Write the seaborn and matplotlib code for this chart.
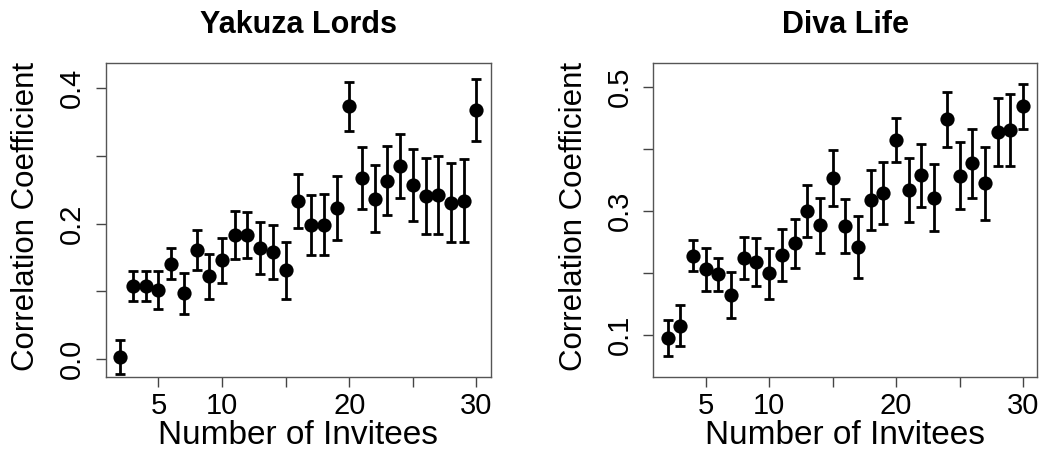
from matplotlib import pyplot as plt
import seaborn as sns
import numpy as np
import pandas as pd

# number of invitees (same for both games)
invitees = list(range(2, 31))

# Yakuza Lords: correlation coefficient and error bar half-width
yakuza_corr = [0.003, 0.108, 0.108, 0.102, 0.141, 0.097, 0.161, 0.122, 0.146, 0.183,
               0.183, 0.164, 0.158, 0.131, 0.233, 0.198, 0.198, 0.223, 0.373, 0.267,
               0.237, 0.263, 0.285, 0.257, 0.241, 0.242, 0.231, 0.234, 0.368]
yakuza_err = [0.025, 0.022, 0.022, 0.028, 0.023, 0.030, 0.030, 0.033, 0.033, 0.035,
              0.034, 0.038, 0.040, 0.042, 0.040, 0.044, 0.045, 0.047, 0.036, 0.046,
              0.050, 0.051, 0.047, 0.053, 0.056, 0.058, 0.058, 0.061, 0.046]

# Diva Life
diva_corr = [0.096, 0.115, 0.228, 0.206, 0.198, 0.165, 0.224, 0.218, 0.200, 0.229,
             0.248, 0.301, 0.277, 0.354, 0.276, 0.243, 0.318, 0.329, 0.415, 0.334,
             0.358, 0.322, 0.448, 0.357, 0.377, 0.345, 0.428, 0.431, 0.469]
diva_err = [0.029, 0.033, 0.025, 0.035, 0.027, 0.037, 0.034, 0.039, 0.041, 0.042,
            0.039, 0.042, 0.045, 0.045, 0.044, 0.050, 0.048, 0.050, 0.035, 0.051,
            0.051, 0.054, 0.044, 0.054, 0.055, 0.059, 0.055, 0.058, 0.036]

xticks = [5, 10, 15, 20, 25, 30]
xtick_labels = ['5', '10', '', '20', '', '30']

panels = [
    dict(title='Yakuza Lords', y=yakuza_corr, err=yakuza_err,
         yticks=[0.0, 0.1, 0.2, 0.3, 0.4], ylabels=['0.0', '', '0.2', '', '0.4'],
         ylim=(-0.026, 0.437), rect=[106/1042, 78.3/455, 384.7/1042, 313.7/455]),
    dict(title='Diva Life', y=diva_corr, err=diva_err,
         yticks=[0.1, 0.2, 0.3, 0.4, 0.5], ylabels=['0.1', '', '0.3', '', '0.5'],
         ylim=(0.033, 0.539), rect=[653.3/1042, 78.3/455, 384/1042, 313.7/455]),
]

sns.set_theme(style='ticks')
plt.rcParams['font.family'] = ['Liberation Sans', 'DejaVu Sans']
plt.rcParams['text.color'] = 'black'
plt.rcParams['axes.labelcolor'] = 'black'

fig = plt.figure(figsize=(10.42, 4.55), dpi=100)

for p in panels:
    ax = fig.add_axes(p['rect'])
    df = pd.DataFrame({'invitees': invitees, 'corr': p['y'], 'err': p['err']})
    ax.errorbar(df['invitees'], df['corr'], yerr=df['err'], fmt='none',
                ecolor='black', elinewidth=2, capsize=3.5, capthick=2, zorder=2)
    sns.scatterplot(data=df, x='invitees', y='corr', ax=ax, color='black',
                    s=105, linewidth=0, zorder=3, legend=False)
    ax.set_xlim(0.88, 31.12)
    ax.set_ylim(*p['ylim'])
    ax.set_xticks(xticks)
    ax.set_xticklabels(xtick_labels)
    ax.set_yticks(p['yticks'])
    ax.set_yticklabels(p['ylabels'])
    for lab in ax.get_yticklabels():
        lab.set_rotation(90)
        lab.set_va('center')
    ax.tick_params(axis='x', length=7.2, width=1, color='#444444', labelcolor='black',
                   labelsize=21, pad=4)
    ax.tick_params(axis='y', length=7.2, width=1, color='#444444', labelcolor='black',
                   labelsize=21, pad=7)
    for s in ax.spines.values():
        s.set_visible(True)
        s.set_color('#555555')
        s.set_linewidth(1)
    ax.set_xlabel('Number of Invitees', fontsize=24, va='center', color='black')
    ax.xaxis.set_label_coords(0.5, -0.186)
    ax.set_ylabel('Correlation Coefficient', fontsize=22.5, va='center', color='black')
    ax.yaxis.set_label_coords(-0.207, 0.512)
    ax.text(0.5, 1.121, p['title'], transform=ax.transAxes, ha='center',
            va='center', fontsize=22, fontweight='bold', color='black')

plt.savefig('out.png', dpi=100)
